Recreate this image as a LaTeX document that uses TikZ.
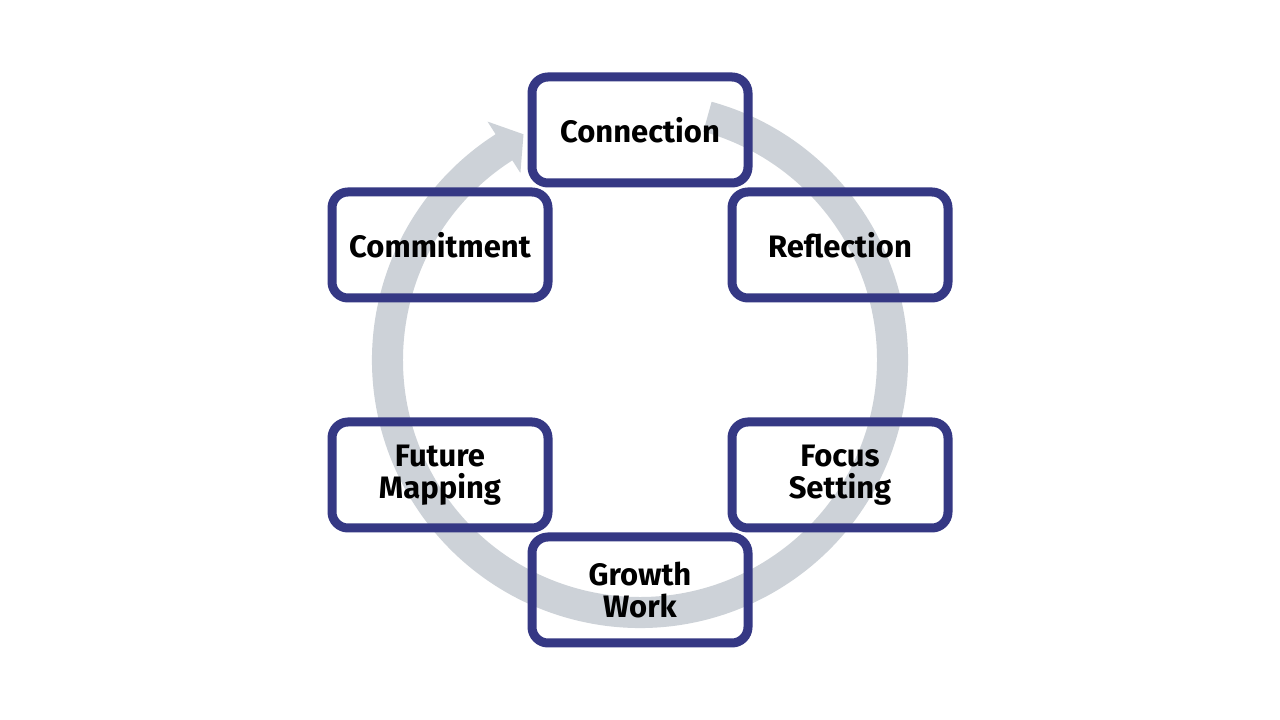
\documentclass[tikz,border=0pt]{standalone}
\usepackage{fontspec}
\setmainfont{Fira Sans}
\definecolor{navy}{RGB}{53,56,132}
\definecolor{arcgray}{RGB}{205,210,216}
\begin{document}
\begin{tikzpicture}[x=1pt,y=1pt,
  stagebox/.style={draw=navy, line width=9pt, rounded corners=16pt,
    minimum width=216pt, minimum height=106pt, inner sep=0pt},
  stagetext/.style={font=\fontsize{31}{32}\selectfont\bfseries, align=center, text=black}]
\fill[white] (0,0) rectangle (1280,720);
\useasboundingbox (0,0) rectangle (1280,720);
% circular arrow
\begin{scope}[shift={(640,360)}]
\fill[arcgray] (74.5:268pt) arc[start angle=74.5, end angle=-237.4, radius=268pt]
  -- (122.6:283pt) -- (117.3:254pt) -- (122.6:222pt) -- (122.6:237pt)
  arc[start angle=-237.4, end angle=74.5, radius=237pt] -- cycle;
\end{scope}
% boxes
\node[stagebox] (conn) at (640,590) {};
\node[stagebox] (refl) at (840,475) {};
\node[stagebox] (focus) at (840,245) {};
\node[stagebox] (grow) at (640,130) {};
\node[stagebox] (future) at (440,245) {};
\node[stagebox] (commit) at (440,475) {};
% labels
\node[stagetext] at (conn.center) {Connection};
\node[stagetext] at (refl.center) {Reflection};
\node[stagetext] at (focus.center) {Focus\\Setting};
\node[stagetext] at (grow.center) {Growth\\Work};
\node[stagetext] at (future.center) {Future\\Mapping};
\node[stagetext] at (commit.center) {Commitment};
\end{tikzpicture}
\end{document}
